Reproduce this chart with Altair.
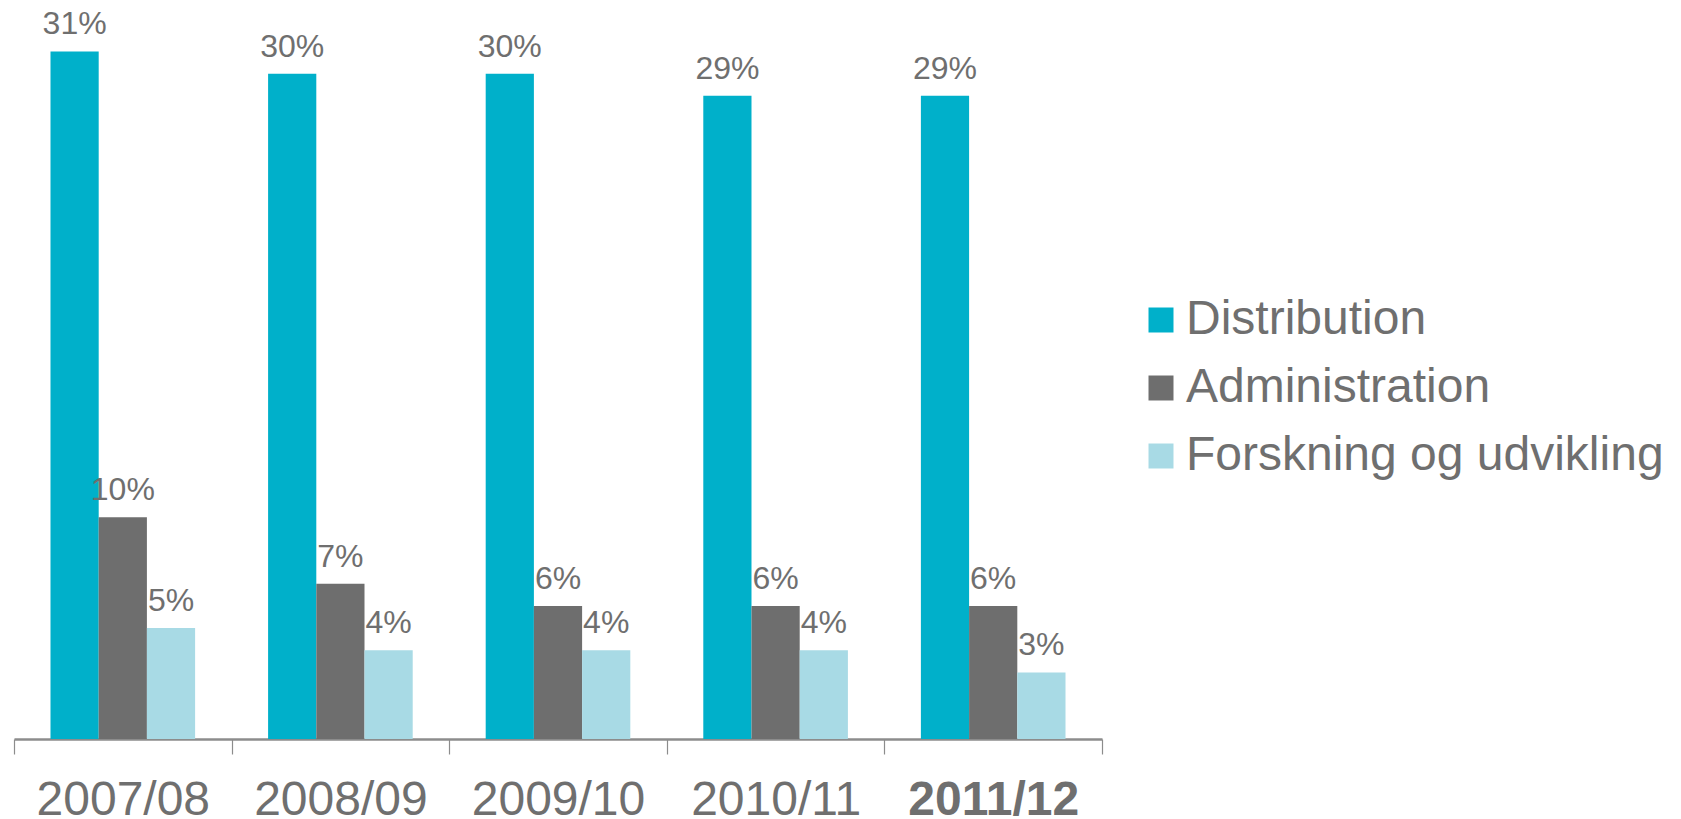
import altair as alt
import pandas as pd

years = ["2007/08", "2008/09", "2009/10", "2010/11", "2011/12"]
series = ["Distribution", "Administration", "Forskning og udvikling"]
distribution = [31, 30, 30, 29, 29]
administration = [10, 7, 6, 6, 6]
forskning = [5, 4, 4, 4, 3]
colors = ["#00B0CA", "#6E6E6E", "#A8DAE5"]

rows = []
for vals, s in zip([distribution, administration, forskning], series):
    for y, v in zip(years, vals):
        rows.append({"year": y, "series": s, "value": v})
df = pd.DataFrame(rows)

FONT = "Liberation Sans"
TXT = "#6F6F6F"

x = alt.X("year:N", sort=years, title=None,
          scale=alt.Scale(paddingInner=0, paddingOuter=0),
          axis=alt.Axis(labelAngle=0, labelFontSize=48, labelColor=TXT, labelFont=FONT,
                        labelFontWeight={"expr": "datum.value == '2011/12' ? 'bold' : 'normal'"},
                        domainColor="#8C8C8C", domainWidth=2.5, tickColor="#8C8C8C",
                        tickSize=15, tickWidth=1.2, tickBand="extent", labelPadding=22))
xo = alt.XOffset("series:N", sort=series, scale=alt.Scale(paddingInner=0, paddingOuter=0.757))
y = alt.Y("value:Q", axis=None, scale=alt.Scale(domain=[0, 32.96], nice=False, zero=True))

base = alt.Chart(df).encode(x=x, xOffset=xo, y=y)

bars = base.mark_bar().encode(
    color=alt.Color("series:N", sort=series,
                    scale=alt.Scale(domain=series, range=colors),
                    legend=alt.Legend(title=None, orient="none", legendX=1123, legendY=288,
                                      labelFontSize=48, labelColor=TXT, labelFont=FONT,
                                      labelLimit=0,
                                      symbolType="square", symbolSize=625, symbolStrokeWidth=0,
                                      labelOffset=1, rowPadding=20, padding=0))
)

labels = base.transform_calculate(lbl="datum.value + '%'").mark_text(
    baseline="alphabetic", dy=-17, fontSize=32, color=TXT, font=FONT
).encode(text="lbl:N")

chart = alt.layer(bars, labels).properties(
    width=1088, height=731,
    autosize=alt.AutoSizeParams(type="none"),
    padding={"left": 6, "top": 0, "right": 571, "bottom": 95},
).configure_view(stroke=None)

chart.save("out.html", embed_options={"renderer": "svg", "actions": False})
